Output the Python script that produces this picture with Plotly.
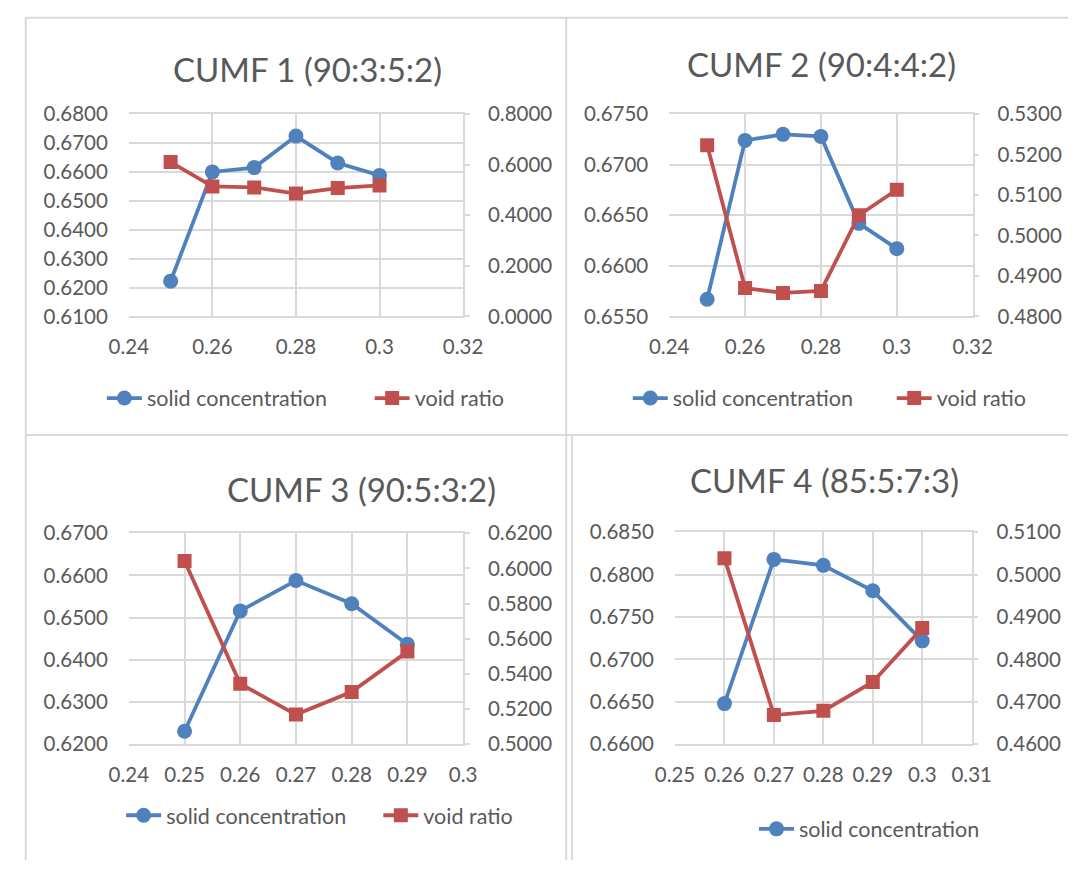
import plotly.graph_objects as go

W, H = 1088, 871

# ---- data -------------------------------------------------------------
titles = ["CUMF 1 (90:3:5:2)", "CUMF 2 (90:4:4:2)", "CUMF 3 (90:5:3:2)", "CUMF 4 (85:5:7:3)"]

x1 = [0.25, 0.26, 0.27, 0.28, 0.29, 0.30]
solid1 = [0.6222, 0.6600, 0.6615, 0.6724, 0.6631, 0.6588]
void1 = [0.6103, 0.5141, 0.5103, 0.4860, 0.5077, 0.5180]

x2 = [0.25, 0.26, 0.27, 0.28, 0.29, 0.30]
solid2 = [0.6567, 0.6724, 0.6730, 0.6728, 0.6642, 0.6617]
void2 = [0.5223, 0.4870, 0.4858, 0.4863, 0.5050, 0.5113]

x3 = [0.25, 0.26, 0.27, 0.28, 0.29]
solid3 = [0.6231, 0.6516, 0.6588, 0.6533, 0.6437]
void3 = [0.6042, 0.5344, 0.5169, 0.5298, 0.5527]

x4 = [0.26, 0.27, 0.28, 0.29, 0.30]
solid4 = [0.6648, 0.6818, 0.6811, 0.6781, 0.6722]
void4 = [0.5039, 0.4669, 0.4679, 0.4747, 0.4874]

xticks1 = ["0.24", "0.26", "0.28", "0.3", "0.32"]
xticks2 = ["0.24", "0.26", "0.28", "0.3", "0.32"]
xticks3 = ["0.24", "0.25", "0.26", "0.27", "0.28", "0.29", "0.3"]
xticks4 = ["0.25", "0.26", "0.27", "0.28", "0.29", "0.3", "0.31"]

# ---- styling ----------------------------------------------------------
FONT = "Lato"
TXT = "#595959"
GRID = "#d9d9d9"
BLUE = "#4f81bd"
RED = "#c0504d"
TICK_SIZE = 20.5
LEG_SIZE = 21.5
TITLE_SIZE = 33
ITEM_W = 35


def px_x(v):
    return v / W


def px_y(v):
    return 1 - v / H


# panel layout in pixels: plot box (left, right, top, bottom), y ranges, title centre,
# legend entry positions (left x of each entry, middle y); None = entry not shown
panels = [
    dict(x=x1, s=solid1, v=void1, xt=xticks1, box=(113, 460, 104, 312),
         yl=(0.61, 0.68, 0.01), yr=(0.0, 0.8, 0.2), title=(298, 58),
         leg_s=(85, 396), leg_v=(363, 396)),
    dict(x=x2, s=solid2, v=void2, xt=xticks2, box=(674, 989, 104, 312),
         yl=(0.655, 0.675, 0.005), yr=(0.48, 0.53, 0.01), title=(832, 52),
         leg_s=(631, 396), leg_v=(905, 396)),
    dict(x=x3, s=solid3, v=void3, xt=xticks3, box=(113, 460, 535, 752),
         yl=(0.62, 0.67, 0.01), yr=(0.50, 0.62, 0.02), title=(355, 490),
         leg_s=(105, 825), leg_v=(372, 825)),
    dict(x=x4, s=solid4, v=void4, xt=xticks4, box=(680, 988, 534, 752),
         yl=(0.66, 0.685, 0.005), yr=(0.46, 0.51, 0.01), title=(835, 480),
         leg_s=(762, 839), leg_v=None),
]

fig = go.Figure()
layout = dict(
    width=W, height=H, margin=dict(l=0, r=0, t=0, b=0),
    paper_bgcolor="white", plot_bgcolor="white",
    font=dict(family=FONT, color=TXT, size=TICK_SIZE),
    annotations=[], shapes=[],
)

legend_count = 0


def new_legend(pos):
    """Create a one-entry legend box placed at pos (left x, middle y) in pixels."""
    global legend_count
    legend_count += 1
    key = "legend" if legend_count == 1 else f"legend{legend_count}"
    lx, ly = pos
    layout[key] = dict(
        x=px_x(lx), y=px_y(ly), xanchor="left", yanchor="middle",
        orientation="h", bgcolor="rgba(0,0,0,0)", itemwidth=ITEM_W,
        font=dict(size=LEG_SIZE, color=TXT, family=FONT),
    )
    return key


for i, p in enumerate(panels):
    n = i + 1
    xa = f"x{n}" if n > 1 else "x"
    ya_l = f"y{2 * n - 1}" if n > 1 else "y"
    ya_r = f"y{2 * n}"
    xkey = f"xaxis{n}" if n > 1 else "xaxis"
    ylkey = f"yaxis{2 * n - 1}" if n > 1 else "yaxis"
    yrkey = f"yaxis{2 * n}"

    l, r, t, b = p["box"]
    xvals = [float(s) for s in p["xt"]]

    layout[xkey] = dict(
        domain=[px_x(l), px_x(r)], anchor=ya_l,
        range=[xvals[0], xvals[-1]], tickvals=xvals, ticktext=p["xt"],
        showgrid=True, gridcolor=GRID, gridwidth=1.5, zeroline=False,
        showline=True, linecolor=GRID, linewidth=1.5, mirror=True,
        ticks="", ticklabelstandoff=11, tickangle=0,
        tickfont=dict(size=TICK_SIZE, color=TXT, family=FONT),
    )
    lo, hi, step = p["yl"]
    layout[ylkey] = dict(
        domain=[px_y(b), px_y(t)], anchor=xa,
        range=[lo, hi], dtick=step, tick0=lo, tickformat=".4f",
        showgrid=True, gridcolor=GRID, gridwidth=1.5, zeroline=False,
        showline=False, ticks="", ticklabelstandoff=20,
        tickfont=dict(size=TICK_SIZE, color=TXT, family=FONT),
    )
    lo2, hi2, step2 = p["yr"]
    layout[yrkey] = dict(
        overlaying=ya_l, side="right", anchor=xa,
        range=[lo2, hi2], dtick=step2, tick0=lo2, tickformat=".4f",
        showgrid=False, zeroline=False,
        showline=True, linecolor=GRID, linewidth=1.5,
        ticks="outside", ticklen=5, tickcolor=GRID, tickwidth=1.5,
        ticklabelstandoff=14,
        tickfont=dict(size=TICK_SIZE, color=TXT, family=FONT),
    )

    fig.add_trace(go.Scatter(
        x=p["x"], y=p["s"], mode="lines+markers", name="solid concentration",
        line=dict(color=BLUE, width=3.8), marker=dict(symbol="circle", size=15, color=BLUE),
        xaxis=xa, yaxis=ya_l, legend=new_legend(p["leg_s"]),
    ))
    void_kw = dict(legend=new_legend(p["leg_v"])) if p["leg_v"] else dict(showlegend=False)
    fig.add_trace(go.Scatter(
        x=p["x"], y=p["v"], mode="lines+markers", name="void ratio",
        line=dict(color=RED, width=3.8), marker=dict(symbol="square", size=14, color=RED),
        xaxis=xa, yaxis=ya_r, **void_kw,
    ))

    tx, ty = p["title"]
    layout["annotations"].append(dict(
        text=titles[i], x=px_x(tx), y=px_y(ty), xref="paper", yref="paper",
        xanchor="center", yanchor="middle", showarrow=False,
        font=dict(size=TITLE_SIZE, color=TXT, family=FONT),
    ))

# panel frames
frame = [
    (6, 5, 1088, 5),      # top edge
    (6, 5, 6, 871),       # left edge
    (567, 5, 567, 434),   # divider between top panels
    (6, 434, 1088, 434),  # divider between rows
    (567, 434, 567, 871), # bottom-left panel right edge
    (573, 434, 573, 871), # bottom-right panel left edge
]
for x0, y0, x1_, y1_ in frame:
    layout["shapes"].append(dict(
        type="line", xref="paper", yref="paper",
        x0=px_x(x0), y0=px_y(y0), x1=px_x(x1_), y1=px_y(y1_),
        line=dict(color=GRID, width=2), layer="below",
    ))

fig.update_layout(**layout)
fig.write_html("out.html")
